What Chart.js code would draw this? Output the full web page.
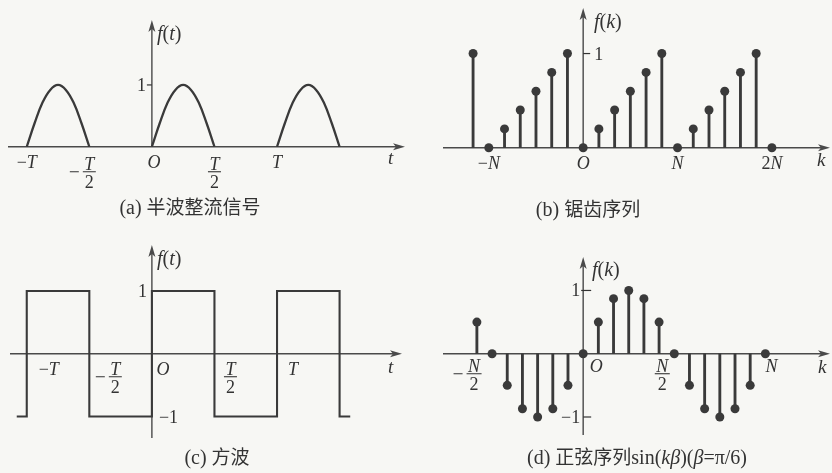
<!DOCTYPE html>
<html>
<head>
<meta charset="utf-8">
<script src="https://cdn.jsdelivr.net/npm/chart.js@4.4.1/dist/chart.umd.min.js"></script>
<style>
html, body { margin: 0; padding: 0; background: #f7f7f4; }
#wrap { position: relative; width: 832px; height: 473px; }
</style>
</head>
<body>
<div id="wrap"><canvas id="plot" width="832" height="473"></canvas></div>
<script>
// (a) half-wave rectified signal, t in units of T
var arcStarts = [-1, 0, 1];
var arcPhase = [0, 0.0625, 0.125, 0.1875, 0.25, 0.3125, 0.375, 0.4375, 0.5];
var arcValues = [0, 0.38, 0.71, 0.92, 1, 0.92, 0.71, 0.38, 0];
var ticksA = [-1, -0.5, 0, 0.5, 1];
var labelsA = ['−T', '−T/2', 'O', 'T/2', 'T'];

// (b) sawtooth sequence
var sawK = [-7, -6, -5, -4, -3, -2, -1, 0, 1, 2, 3, 4, 5, 6, 7, 8, 9, 10, 11, 12];
var sawValues = [1, 0, 0.2, 0.4, 0.6, 0.8, 1, 0, 0.2, 0.4, 0.6, 0.8, 1, 0, 0.2, 0.4, 0.6, 0.8, 1, 0];
var ticksB = [-6, 0, 6, 12];
var labelsB = ['−N', 'O', 'N', '2N'];

// (c) square wave
var sqT = [-1.08, -1, -0.5, 0, 0.5, 1, 1.5, 1.585];
var sqValues = [-1, 1, -1, 1, -1, 1, -1, -1];
var ticksC = [-1, -0.5, 0, 0.5, 1];
var labelsC = ['−T', '−T/2', 'O', 'T/2', 'T'];

// (d) sine sequence
var sinK = [-7, -6, -5, -4, -3, -2, -1, 0, 1, 2, 3, 4, 5, 6, 7, 8, 9, 10, 11, 12];
var sinValues = [0.5, 0, -0.5, -0.87, -1, -0.87, -0.5, 0, 0.5, 0.87, 1, 0.87, 0.5, 0, -0.5, -0.87, -1, -0.87, -0.5, 0];
var ticksD = [-6, 0, 6, 12];
var labelsD = ['−N/2', 'O', 'N/2', 'N'];

var capTags = ['(a)', '(b)', '(c)', '(d)'];
var capTexts = ['半波整流信号', '锯齿序列', '方波', '正弦序列sin(kβ)(β=π/6)'];
var fLabels = ['f(t)', 'f(k)', 'f(t)', 'f(k)'];
var varLabels = ['t', 'k', 't', 'k'];
var yTicks = [[1], [1], [1, -1], [1, -1]];
var yTickLabels = [['1'], ['1'], ['1', '−1'], ['1', '−1']];

var W = 832, H = 473;
var ink = '#3a3a3a';
var SERIF = "'Liberation Serif', 'DejaVu Serif', serif";
var CJK = "'Noto Sans CJK SC', sans-serif";

// layout of the four panels (pixels)
var panels = [
    { ox: 149, oy: 145, ux: 126.5, uy: 63, axL: 8, axR: 405, yTop: 20, yBot: 146,
      ticks: ticksA, labels: labelsA, labDx: [0, 0, 2, 0, 0], labY: 21, fracY: 25, labAlign: 'center',
      yAlign: ['right'], yDx: [-6], yTick: [[-5, 0]],
      fPos: [157, 40], vPos: [388, 164], cap: [190, 214] },
    { ox: 585, oy: 146, ux: 15.9, uy: 96, axL: 443, axR: 830, yTop: 8, yBot: 146,
      ticks: ticksB, labels: labelsB, labDx: [0, 0, 0, 0], labY: 21, fracY: 22, labAlign: 'center',
      yAlign: ['left'], yDx: [11], yTick: [[0, 7]],
      fPos: [594, 28], vPos: [817, 166], cap: [588, 216] },
    { ox: 149, oy: 356, ux: 126.5, uy: 64, axL: 10, axR: 402, yTop: 245, yBot: 438,
      ticks: ticksC, labels: labelsC, labDx: [22, 26, 11, 16, 16], labY: 21, fracY: 23, labAlign: 'center',
      yAlign: ['right', 'left'], yDx: [-5, 7], yTick: [null, null],
      fPos: [157, 265], vPos: [388, 373], cap: [217, 464] },
    { ox: 585, oy: 356, ux: 15.35, uy: 64.5, axL: 443, axR: 830, yTop: 257, yBot: 435,
      ticks: ticksD, labels: labelsD, labDx: [-18, 13, -12, 6], labY: 18, fracY: 20, labAlign: 'center',
      yAlign: ['right', 'right'], yDx: [-3, -3], yTick: [[-2, 8], [0, 8]],
      fPos: [592, 276], vPos: [818, 373], cap: [637, 464] }
];
var ids = ['a', 'b', 'c', 'd'];

// hidden scales, set so that each panel's origin and units land where they should
var scales = {};
panels.forEach(function (p, i) {
    scales['x' + ids[i]] = { type: 'linear', display: false, offset: false,
        min: -p.ox / p.ux, max: (W - p.ox) / p.ux };
    scales['y' + ids[i]] = { type: 'linear', display: false, offset: false,
        min: (p.oy - H) / p.uy, max: p.oy / p.uy };
});

var sets = [];
arcStarts.forEach(function (s) {
    sets.push({
        type: 'line', xAxisID: 'xa', yAxisID: 'ya',
        data: arcPhase.map(function (ph, j) { return { x: s + ph, y: arcValues[j] }; }),
        borderColor: ink, borderWidth: 2.3, pointRadius: 0, tension: 0.4, fill: false
    });
});
sets.push({
    type: 'scatter', xAxisID: 'xb', yAxisID: 'yb', order: 0,
    data: sawK.map(function (k, j) { return { x: k, y: sawValues[j] }; }),
    backgroundColor: ink, borderWidth: 0, pointRadius: 4.5
});
sets.push({
    type: 'bar', xAxisID: 'xb', yAxisID: 'yb', order: 1, grouped: false,
    data: sawK.map(function (k, j) { return { x: k, y: sawValues[j] }; }),
    backgroundColor: ink, borderWidth: 0, barThickness: 2.2
});
sets.push({
    type: 'line', xAxisID: 'xc', yAxisID: 'yc', stepped: true,
    data: sqT.map(function (t, j) { return { x: t, y: sqValues[j] }; }),
    borderColor: ink, borderWidth: 2.1, pointRadius: 0, fill: false
});
sets.push({
    type: 'scatter', xAxisID: 'xd', yAxisID: 'yd', order: 0,
    data: sinK.map(function (k, j) { return { x: k, y: sinValues[j] }; }),
    backgroundColor: ink, borderWidth: 0, pointRadius: 4.5
});
sets.push({
    type: 'bar', xAxisID: 'xd', yAxisID: 'yd', order: 1, grouped: false,
    data: sinK.map(function (k, j) { return { x: k, y: sinValues[j] }; }),
    backgroundColor: ink, borderWidth: 0, barThickness: 2.2
});

// text helpers: single latin letters and beta in italic, the rest upright
function runs(str) {
    var re = /[\u4e00-\u9fff]+|[A-Za-z]{2,}|[A-Za-zβ]|[^A-Za-zβ\u4e00-\u9fff]/g;
    return str.match(re).map(function (s) {
        var st = 'up';
        if (/[\u4e00-\u9fff]/.test(s)) st = 'cjk';
        else if (/^[A-Za-zβ]$/.test(s)) st = 'it';
        return { s: s, st: st };
    });
}
function fontFor(st, size) {
    if (st === 'cjk') return Math.round(size * 0.95) + 'px ' + CJK;
    if (st === 'it') return 'italic ' + size + 'px ' + SERIF;
    return size + 'px ' + SERIF;
}
function drawRich(ctx, str, x, y, size, align, upright) {
    var parts = upright ? [{ s: str, st: 'up' }] : runs(str);
    var w = 0;
    parts.forEach(function (p) { ctx.font = fontFor(p.st, size); p.w = ctx.measureText(p.s).width; w += p.w; });
    var cx = align === 'center' ? x - w / 2 : (align === 'right' ? x - w : x);
    ctx.textAlign = 'left';
    ctx.textBaseline = 'alphabetic';
    parts.forEach(function (p) { ctx.font = fontFor(p.st, size); ctx.fillText(p.s, cx, y); cx += p.w; });
    return w;
}
function measureRich(ctx, str, size) {
    var w = 0;
    runs(str).forEach(function (p) { ctx.font = fontFor(p.st, size); w += ctx.measureText(p.s).width; });
    return w;
}
function drawFrac(ctx, str, cx, barY, size) {
    var neg = str.charAt(0) === '−';
    var bits = (neg ? str.slice(1) : str).split('/');
    var hw = Math.max(measureRich(ctx, bits[0], size), measureRich(ctx, bits[1], size)) / 2 + 1.5;
    drawRich(ctx, bits[0], cx, barY - 2, size, 'center');
    drawRich(ctx, bits[1], cx, barY + 16, size, 'center');
    ctx.lineWidth = 1.1;
    ctx.beginPath();
    ctx.moveTo(cx - hw, barY);
    ctx.lineTo(cx + hw, barY);
    if (neg) {
        ctx.moveTo(cx - hw - 13, barY);
        ctx.lineTo(cx - hw - 4, barY);
    }
    ctx.stroke();
}
function arrow(ctx, x, y, dir) {
    ctx.beginPath();
    if (dir === 'right') {
        ctx.moveTo(x, y); ctx.lineTo(x - 12, y - 3.5); ctx.lineTo(x - 9, y); ctx.lineTo(x - 12, y + 3.5);
    } else {
        ctx.moveTo(x, y); ctx.lineTo(x - 3.5, y + 12); ctx.lineTo(x, y + 9); ctx.lineTo(x + 3.5, y + 12);
    }
    ctx.closePath();
    ctx.fill();
}

var axesPlugin = {
    id: 'axes',
    beforeDatasetsDraw: function (chart) {
        var ctx = chart.ctx;
        ctx.save();
        ctx.strokeStyle = '#4a4a4a';
        ctx.fillStyle = '#4a4a4a';
        ctx.lineWidth = 1.4;
        panels.forEach(function (p, i) {
            var xs = chart.scales['x' + ids[i]], ys = chart.scales['y' + ids[i]];
            var ax = xs.getPixelForValue(0), ay = ys.getPixelForValue(0);
            ctx.beginPath();
            ctx.moveTo(p.axL, ay); ctx.lineTo(p.axR - 8, ay);
            ctx.moveTo(ax, p.yBot); ctx.lineTo(ax, p.yTop + 8);
            ctx.stroke();
            arrow(ctx, p.axR, ay, 'right');
            arrow(ctx, ax, p.yTop, 'up');
        });
        ctx.restore();
    },
    afterDraw: function (chart) {
        var ctx = chart.ctx;
        ctx.save();
        ctx.fillStyle = '#333';
        ctx.strokeStyle = '#333';
        panels.forEach(function (p, i) {
            var xs = chart.scales['x' + ids[i]], ys = chart.scales['y' + ids[i]];
            var ax = xs.getPixelForValue(0), ay = ys.getPixelForValue(0);
            // x tick labels
            p.ticks.forEach(function (v, j) {
                var px = xs.getPixelForValue(v) + p.labDx[j];
                var lab = p.labels[j];
                if (lab.indexOf('/') >= 0) drawFrac(ctx, lab, px, ay + p.fracY, 18);
                else drawRich(ctx, lab, px, ay + p.labY, 18, p.labAlign);
            });
            // y tick labels
            yTicks[i].forEach(function (v, j) {
                var py = ys.getPixelForValue(v);
                drawRich(ctx, yTickLabels[i][j], ax + p.yDx[j], py + 6, 18, p.yAlign[j]);
                var tk = p.yTick[j];
                if (tk) {
                    ctx.lineWidth = 1.2;
                    ctx.beginPath();
                    ctx.moveTo(ax + tk[0], py); ctx.lineTo(ax + tk[1], py);
                    ctx.stroke();
                }
            });
            drawRich(ctx, fLabels[i], p.fPos[0], p.fPos[1], 20, 'left');
            drawRich(ctx, varLabels[i], p.vPos[0], p.vPos[1], 19, 'left');
            // caption
            var tagW, txtW;
            ctx.font = fontFor('up', 20); tagW = ctx.measureText(capTags[i] + ' ').width;
            txtW = measureRich(ctx, capTexts[i], 20);
            var x0 = p.cap[0] - (tagW + txtW) / 2;
            drawRich(ctx, capTags[i] + ' ', x0, p.cap[1], 20, 'left', true);
            drawRich(ctx, capTexts[i], x0 + tagW, p.cap[1], 20, 'left');
        });
        ctx.restore();
    }
};

var chart = new Chart(document.getElementById('plot'), {
    type: 'scatter',
    data: { datasets: sets },
    options: {
        responsive: false,
        animation: false,
        layout: { padding: 0 },
        plugins: { legend: { display: false }, tooltip: { enabled: false } },
        scales: scales
    },
    plugins: [axesPlugin]
});
</script>
</body>
</html>
